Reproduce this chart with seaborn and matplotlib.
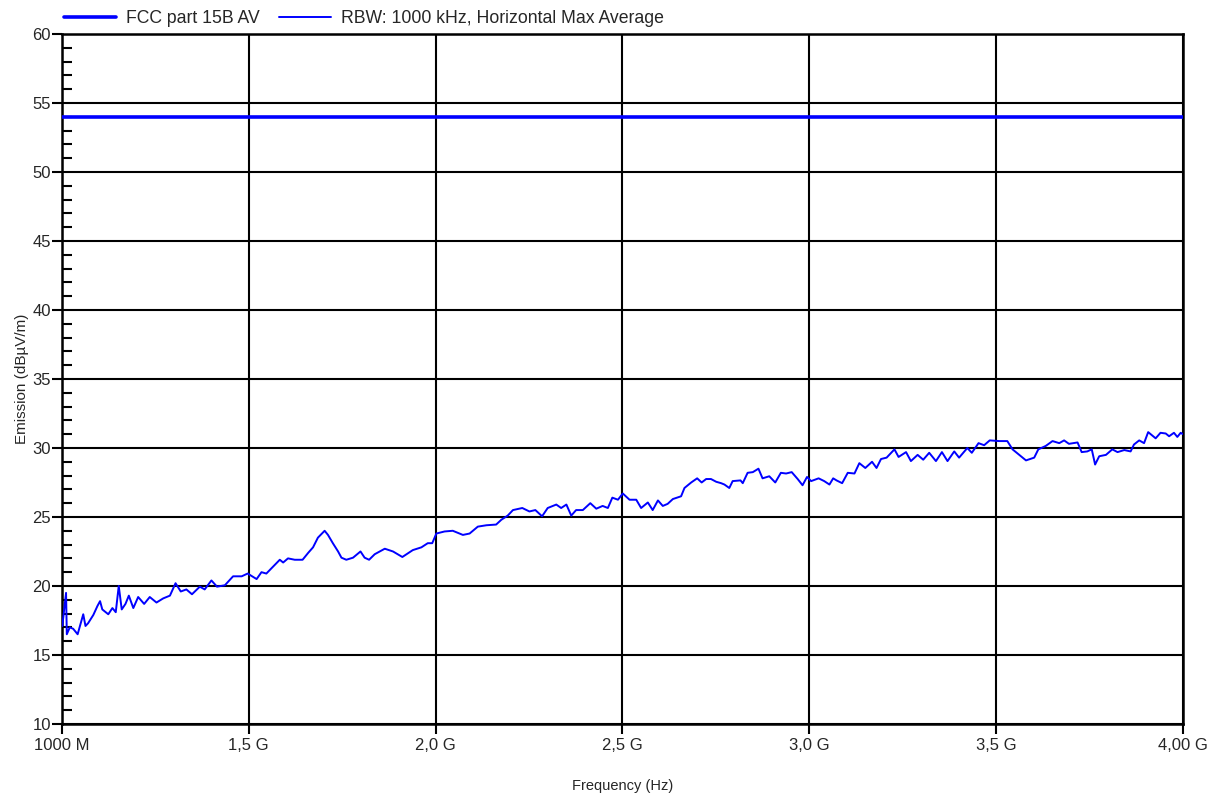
import numpy as np
import pandas as pd
import matplotlib
matplotlib.use('Agg')
import matplotlib.pyplot as plt
from matplotlib.ticker import MultipleLocator
import seaborn as sns

# frequenze in MHz, livelli in dBuV/m
freq_mhz = [1000, 1001, 1011, 1013, 1021, 1030, 1042, 1057, 1063, 1070, 1084, 1095, 1102, 1108,
            1124, 1135, 1144, 1152, 1160, 1170, 1179, 1191, 1204, 1220, 1235, 1253, 1271, 1289,
            1304, 1318, 1333, 1348, 1369, 1382, 1400, 1415, 1436, 1458, 1481, 1497, 1521, 1534,
            1547, 1565, 1583, 1592, 1605, 1623, 1644, 1659, 1672, 1685, 1703, 1712, 1725, 1739,
            1748, 1761, 1779, 1799, 1810, 1822, 1837, 1864, 1886, 1911, 1939, 1962, 1979, 1991,
            2002, 2024, 2046, 2073, 2091, 2113, 2136, 2162, 2176, 2193, 2207, 2232, 2251, 2267,
            2285, 2300, 2323, 2336, 2350, 2363, 2376, 2394, 2414, 2430, 2447, 2461, 2473, 2488,
            2501, 2519, 2537, 2550, 2568, 2581, 2595, 2608, 2621, 2635, 2657, 2666, 2684, 2700,
            2712, 2724, 2737, 2751, 2764, 2773, 2786, 2795, 2816, 2822, 2835, 2849, 2864, 2875,
            2893, 2909, 2924, 2938, 2953, 2969, 2982, 2994, 3005, 3025, 3040, 3054, 3064, 3073,
            3088, 3103, 3121, 3134, 3150, 3168, 3180, 3192, 3207, 3228, 3239, 3259, 3272, 3290,
            3305, 3321, 3339, 3355, 3370, 3388, 3401, 3423, 3435, 3453, 3468, 3483, 3508, 3530,
            3544, 3562, 3580, 3602, 3613, 3633, 3651, 3669, 3682, 3695, 3718, 3729, 3744, 3756,
            3765, 3776, 3794, 3811, 3825, 3843, 3860, 3869, 3883, 3896, 3907, 3927, 3940, 3954,
            3963, 3976, 3985, 3994, 4000]
level_db = [17.3, 17.1, 19.5, 16.5, 17.0, 16.9, 16.5, 17.95, 17.1, 17.3, 17.9, 18.55, 18.9, 18.3,
            17.95, 18.4, 18.1, 20.0, 18.3, 18.7, 19.3, 18.4, 19.2, 18.7, 19.2, 18.8, 19.1, 19.3,
            20.2, 19.6, 19.75, 19.4, 19.95, 19.75, 20.4, 19.95, 20.05, 20.7, 20.7, 20.9, 20.5, 21.0,
            20.9, 21.4, 21.9, 21.7, 22.0, 21.9, 21.9, 22.4, 22.8, 23.5, 24.0, 23.7, 23.1, 22.5,
            22.05, 21.9, 22.05, 22.5, 22.05, 21.9, 22.3, 22.7, 22.5, 22.1, 22.6, 22.8, 23.1, 23.1,
            23.8, 23.95, 24.0, 23.7, 23.8, 24.3, 24.4, 24.45, 24.8, 25.1, 25.5, 25.65, 25.4, 25.5,
            25.05, 25.65, 25.9, 25.65, 25.9, 25.1, 25.5, 25.5, 26.0, 25.6, 25.8, 25.65, 26.4, 26.25,
            26.7, 26.25, 26.25, 25.65, 26.05, 25.5, 26.2, 25.8, 25.95, 26.3, 26.5, 27.1, 27.5, 27.8,
            27.5, 27.75, 27.75, 27.55, 27.45, 27.35, 27.1, 27.6, 27.65, 27.45, 28.2, 28.25, 28.5, 27.8,
            27.95, 27.5, 28.2, 28.15, 28.25, 27.75, 27.3, 27.9, 27.6, 27.8, 27.6, 27.35, 27.8, 27.65,
            27.45, 28.2, 28.15, 28.9, 28.55, 29.0, 28.55, 29.2, 29.3, 29.9, 29.35, 29.7, 29.05, 29.5,
            29.15, 29.65, 29.05, 29.7, 29.05, 29.75, 29.3, 30.0, 29.65, 30.35, 30.2, 30.55, 30.5, 30.5,
            29.9, 29.5, 29.1, 29.3, 29.9, 30.15, 30.5, 30.35, 30.55, 30.3, 30.4, 29.7, 29.75, 29.9,
            28.8, 29.4, 29.5, 29.9, 29.7, 29.85, 29.75, 30.25, 30.55, 30.35, 31.15, 30.7, 31.1, 31.05,
            30.85, 31.1, 30.8, 31.1, 31.0]

limit_freq = [1000, 4000]
limit_db = [54, 54]

x_ticks = [1000, 1500, 2000, 2500, 3000, 3500, 4000]
x_labels = ['1000 M', '1,5 G', '2,0 G', '2,5 G', '3,0 G', '3,5 G', '4,00 G']

sns.set_style('white')
plt.rcParams['font.family'] = ['Liberation Sans', 'DejaVu Sans']

fig = plt.figure(figsize=(12.17, 7.94), dpi=100)
ax = fig.add_axes([0.0509, 0.0882, 0.9211, 0.869])

df_lim = pd.DataFrame({'f': limit_freq, 'v': limit_db})
df_meas = pd.DataFrame({'f': freq_mhz, 'v': level_db})

sns.lineplot(data=df_lim, x='f', y='v', ax=ax, color='#0000ff', linewidth=2.6,
             label='FCC part 15B AV', zorder=3)
sns.lineplot(data=df_meas, x='f', y='v', ax=ax, color='#0000ff', linewidth=1.4,
             label='RBW: 1000 kHz, Horizontal Max Average', zorder=3)

ax.set_xlim(1000, 4000)
ax.set_ylim(10, 60)
ax.set_xticks(x_ticks)
ax.set_xticklabels(x_labels)
ax.yaxis.set_major_locator(MultipleLocator(5))
ax.yaxis.set_minor_locator(MultipleLocator(1))

ax.grid(True, which='major', color='black', linewidth=1.5, zorder=1)
ax.set_axisbelow(True)
for s in ax.spines.values():
    s.set_color('black')
    s.set_linewidth(1.8)

ax.tick_params(axis='both', which='major', direction='out', length=7, width=1.5,
               color='black', labelsize=12, pad=1, left=True, bottom=True)
ax.tick_params(axis='y', which='minor', direction='in', length=7, width=1.5,
               color='black', left=True)
ax.tick_params(axis='x', which='major', pad=3)

ax.set_xlabel('Frequency (Hz)', fontsize=10.5, labelpad=19)
ax.set_ylabel('Emission (dBµV/m)', fontsize=11, labelpad=2)

ax.get_legend().remove()
h, l = ax.get_legend_handles_labels()
fig.legend(h, l, loc='upper left', bbox_to_anchor=(0.0396, 1.007), ncol=2, frameon=False,
           fontsize=12.7, handlelength=2.95, handletextpad=0.57, columnspacing=1.08)

fig.savefig('out.png', dpi=100)
